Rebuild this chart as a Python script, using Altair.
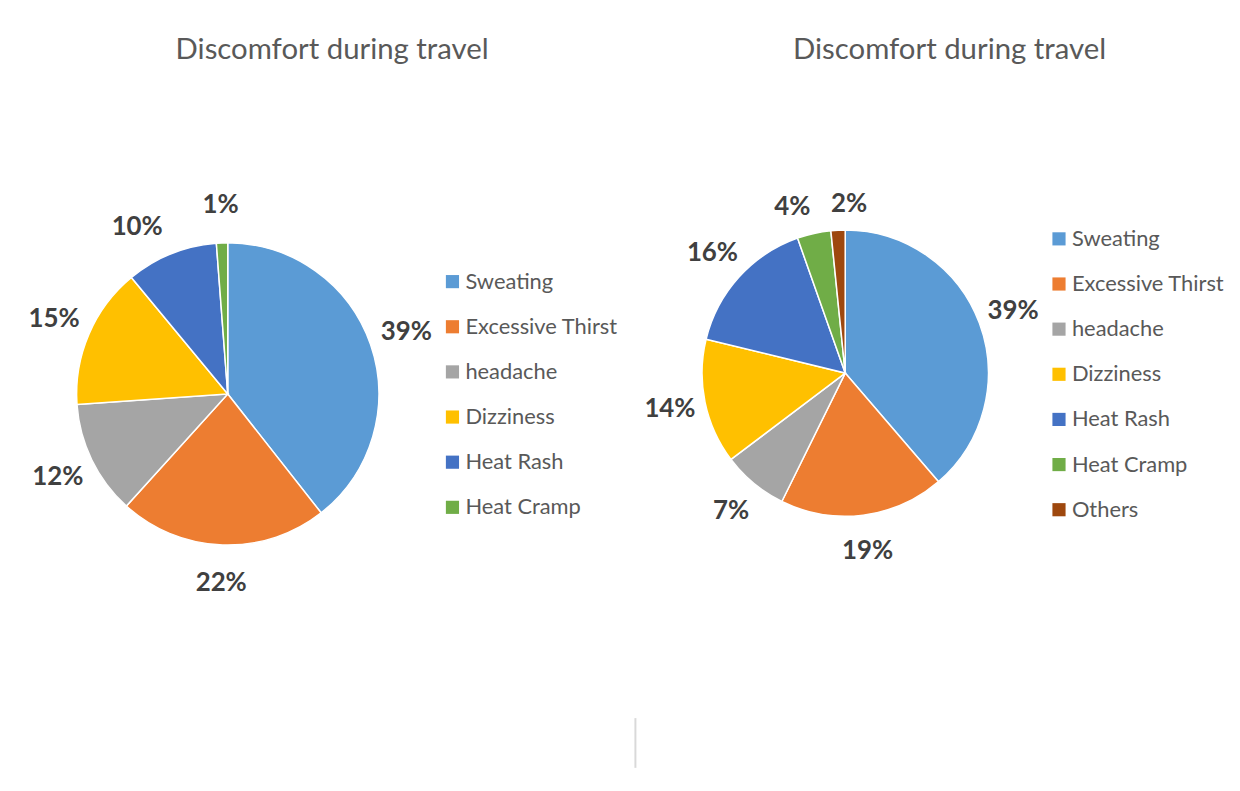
import altair as alt
import pandas as pd

title_text = "Discomfort during travel"

left_categories = ["Sweating", "Excessive Thirst", "headache", "Dizziness", "Heat Rash", "Heat Cramp"]
left_values = [39.4, 22.3, 12.2, 15.1, 9.8, 1.2]

right_categories = ["Sweating", "Excessive Thirst", "headache", "Dizziness", "Heat Rash", "Heat Cramp", "Others"]
right_values = [38.7, 18.6, 7.4, 14.1, 15.8, 3.8, 1.6]

palette = {
    "Sweating": "#5B9BD5",
    "Excessive Thirst": "#ED7D31",
    "headache": "#A5A5A5",
    "Dizziness": "#FFC000",
    "Heat Rash": "#4472C4",
    "Heat Cramp": "#70AD47",
    "Others": "#9E480E",
}

FONT = "Lato"


def make_df(cats, vals):
    total = sum(vals)
    return pd.DataFrame({
        "category": cats,
        "value": vals,
        "order": list(range(len(cats))),
        "label": [f"{round(v / total * 100)}%" for v in vals],
    })


def pie_panel(cats, vals, w, h, cx, cy, r, label_r, title_x, legend_x, legend_y, nudges):
    df = make_df(cats, vals)
    color = alt.Color(
        "category:N",
        sort=cats,
        scale=alt.Scale(domain=cats, range=[palette[c] for c in cats]),
        legend=alt.Legend(
            title=None,
            orient="none",
            legendX=legend_x,
            legendY=legend_y,
            symbolType="square",
            symbolSize=175,
            symbolStrokeWidth=0,
            labelFont=FONT,
            labelFontSize=22,
            labelColor="#595959",
            rowPadding=23.4,
            symbolOffset=0,
            labelOffset=2,
            padding=0,
        ),
    )
    base = alt.Chart(df).encode(
        theta=alt.Theta("value:Q", stack=True),
        order=alt.Order("order:Q"),
    )
    arcs = base.mark_arc(x=cx, y=cy, outerRadius=r, stroke="white", strokeWidth=1.5).encode(color=color)
    label_style = dict(x=cx, y=cy, radius=label_r, font=FONT, fontSize=26, fontWeight="bold", color="#404040")
    nudged = list(nudges.keys())
    layers = [arcs]
    layers.append(
        base.mark_text(**label_style).encode(
            text="label:N",
            opacity=alt.condition(
                alt.FieldOneOfPredicate(field="category", oneOf=nudged if nudged else ["__none__"]),
                alt.value(0),
                alt.value(1),
            ),
        )
    )
    for cat, (ddx, ddy) in nudges.items():
        layers.append(
            base.mark_text(dx=ddx, dy=ddy, **label_style)
            .encode(text="label:N", opacity=alt.condition(alt.datum.category == cat, alt.value(1), alt.value(0)))
        )
    title = alt.Chart(pd.DataFrame({"t": [title_text]})).mark_text(
        font=FONT, fontSize=29.5, color="#595959", baseline="alphabetic"
    ).encode(text="t:N", x=alt.value(title_x), y=alt.value(49))
    layers.append(title)
    return alt.layer(*layers).properties(width=w, height=h)


left = pie_panel(left_categories, left_values, 624, 762, 219, 386, 152, 190, 324, 434, 262,
                 {"Heat Rash": (-20, 8)})
right = pie_panel(right_categories, right_values, 600, 762, 211, 365, 144, 180, 316, 415, 219,
                  {"Heat Cramp": (-14, 9), "Others": (13, 10)})

divider = alt.Chart(pd.DataFrame({"d": [0]})).mark_rule(color="#d9d9d9", strokeWidth=2).encode(
    x=alt.value(0), y=alt.value(712), y2=alt.value(762)
)
right = alt.layer(right, divider)

chart = (
    alt.hconcat(left, right, spacing=0)
    .resolve_scale(color="independent", theta="independent")
    .properties(padding=0, background="white")
    .configure_view(stroke=None)
)

chart.save("out.html", embed_options={"renderer": "svg", "actions": False})
